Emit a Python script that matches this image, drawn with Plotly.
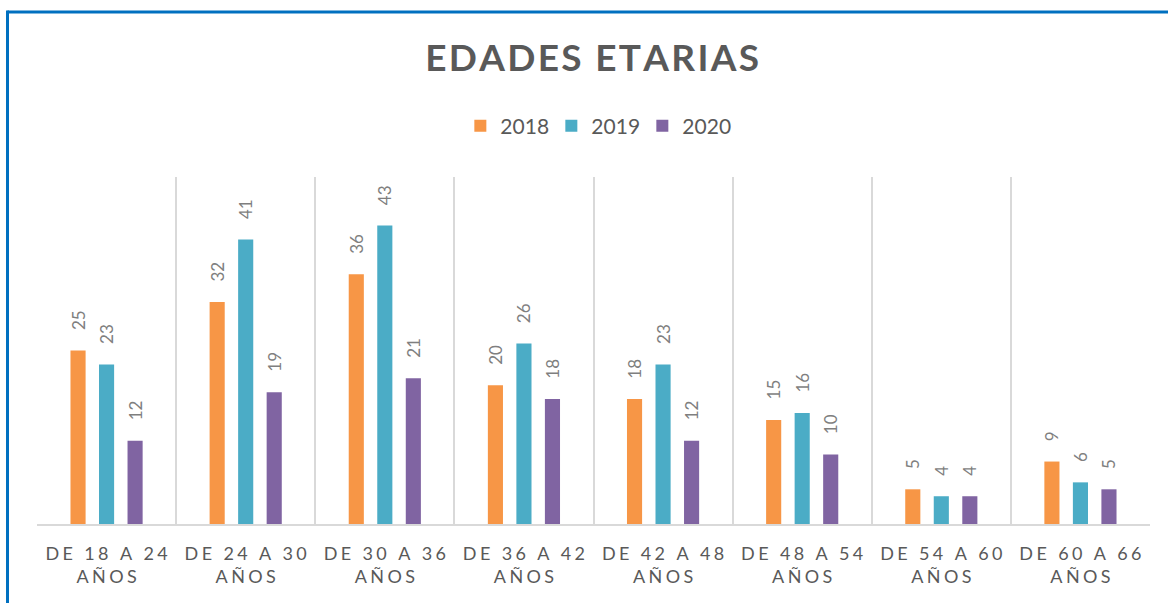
import plotly.graph_objects as go

categories = ["DE 18 A 24 AÑOS", "DE 24 A 30 AÑOS", "DE 30 A 36 AÑOS", "DE 36 A 42 AÑOS",
              "DE 42 A 48 AÑOS", "DE 48 A 54 AÑOS", "DE 54 A 60 AÑOS", "DE 60 A 66 AÑOS"]
series_names = ["2018", "2019", "2020"]
values_2018 = [25, 32, 36, 20, 18, 15, 5, 9]
values_2019 = [23, 41, 43, 26, 23, 16, 4, 6]
values_2020 = [12, 19, 21, 18, 12, 10, 4, 5]
colors = ["#F79646", "#4BACC6", "#8064A2"]
title_text = "EDADES ETARIAS"

FONT = "Lato, Open Sans, sans-serif"


def spaced(s, sep):
    return sep.join(list(s))


def cat_label(s):
    first, second = s.rsplit(" ", 1)
    sep = "\u2009\u200a"
    return spaced(first, sep) + "<br>" + spaced(second, sep)


labels = [cat_label(c) for c in categories]

fig = go.Figure()
for name, vals, col in zip(series_names, [values_2018, values_2019, values_2020], colors):
    fig.add_trace(go.Bar(
        name=name, x=labels, y=vals, marker_color=col, marker_line_width=0,
        text=["\u00a0\u00a0\u00a0\u00a0" + str(v) for v in vals], textposition="outside",
        textangle=-90,
        textfont=dict(family=FONT, size=17, color="#7F7F7F"),
        constraintext="none", cliponaxis=False,
    ))

W, H = 1168, 603
ml, mr, mt, mb = 37, 18, 177, 79
pw = W - ml - mr
ph = H - mt - mb

fig.update_layout(
    width=W, height=H,
    margin=dict(l=ml, r=mr, t=mt, b=mb, pad=0),
    paper_bgcolor="white", plot_bgcolor="white",
    barmode="group", bargap=0.385, bargroupgap=0.47,
    title=dict(text="<b>" + spaced(title_text, "\u200a") + "</b>", x=0.507, xanchor="center",
               y=1 - 58 / H, yanchor="middle",
               font=dict(family=FONT, size=37, color="#595959")),
    legend=dict(orientation="h", x=0.503, xanchor="center", y=1 + 51 / ph, yanchor="middle",
                font=dict(family=FONT, size=21, color="#595959"),
                itemwidth=30, entrywidth=46, entrywidthmode="pixels",
                tracegroupgap=0, bgcolor="rgba(0,0,0,0)"),
    xaxis=dict(type="category", tickson="boundaries", showgrid=True, gridcolor="#D9D9D9",
               gridwidth=1.5, showline=True, linecolor="#D9D9D9", linewidth=2, ticks="",
               ticklabelstandoff=12,
               tickfont=dict(family=FONT, size=18, color="#595959"),
               fixedrange=True),
    yaxis=dict(range=[0, 50], showgrid=False, showticklabels=False, zeroline=False,
               showline=False, ticks="", fixedrange=True),
    showlegend=True,
)

# Blue frame (top and left border of the chart area)
fig.add_shape(type="line", xref="paper", yref="paper",
              x0=(7.5 - ml) / pw, x1=(W + 5 - ml) / pw,
              y0=(H - mb - 12) / ph, y1=(H - mb - 12) / ph,
              line=dict(color="#0070C0", width=3))
fig.add_shape(type="line", xref="paper", yref="paper",
              x0=(7.5 - ml) / pw, x1=(7.5 - ml) / pw,
              y0=(H - mb - 10.5) / ph, y1=(-mb - 5) / ph,
              line=dict(color="#0070C0", width=3))

fig.write_html("out.html", config={"displayModeBar": False},
               post_script="document.body.style.margin='0px';document.body.style.overflow='hidden';")
